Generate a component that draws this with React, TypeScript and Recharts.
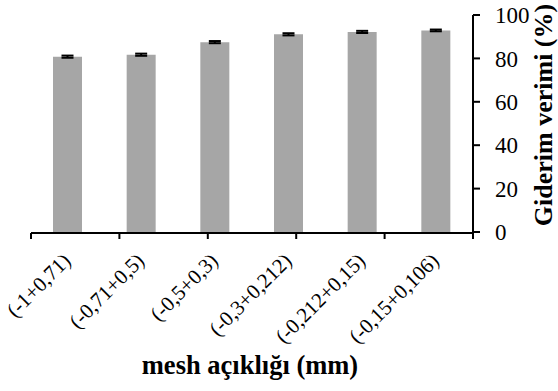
import React from 'react';
import { BarChart, Bar, XAxis, YAxis, ErrorBar, Label } from 'recharts';

const categories = ['(-1+0,71)', '(-0,71+0,5)', '(-0,5+0,3)', '(-0,3+0,212)', '(-0,212+0,15)', '(-0,15+0,106)'];
const removal = [80.8, 81.7, 87.5, 91.1, 92.2, 92.9];
const removalErr = [0.5, 0.5, 0.5, 0.5, 0.5, 0.4];
const yTicks = [0, 20, 40, 60, 80, 100];
const edgeTicks = [0, 1, 2, 3, 4, 5, 6];

const data = categories.map((name, i) => ({ name, value: removal[i], err: removalErr[i] }));

const FONT = 'Liberation Serif';

// rotated category labels, anchored at their end
const CatTick = ({ x, y, payload }: any) => {
  const tx = x + 4;
  const ty = y + 30;
  return (
    <text
      x={tx}
      y={ty}
      transform={`rotate(-45, ${tx}, ${ty})`}
      textAnchor="end"
      fontFamily={FONT}
      fontSize={21}
      fill="#000"
    >
      {payload.value}
    </text>
  );
};

export default function App() {
  return (
    <div style={{ position: 'absolute', left: 0, top: 0, background: '#fff' }}>
      <BarChart width={558} height={391} data={data} margin={{ top: 15, right: 15, left: 31, bottom: 157 }}>
        <XAxis
          xAxisId="edges"
          type="number"
          domain={[0, 6]}
          ticks={edgeTicks}
          allowDataOverflow
          height={1}
          tickSize={6}
          tick={() => <g />}
          axisLine={{ stroke: '#000', strokeWidth: 2 }}
          tickLine={{ stroke: '#000', strokeWidth: 2 }}
        />
        <XAxis
          xAxisId="cat"
          dataKey="name"
          height={1}
          interval={0}
          axisLine={false}
          tickLine={false}
          tickSize={0}
          tickMargin={0}
          tick={<CatTick />}
        >
          <Label
            content={() => (
              <text x={250} y={374} textAnchor="middle" fontFamily={FONT} fontWeight="bold" fontSize={26.5} fill="#000">
                mesh açıklığı (mm)
              </text>
            )}
          />
        </XAxis>
        <YAxis
          orientation="right"
          width={70}
          domain={[0, 100]}
          ticks={yTicks}
          tickSize={7}
          tickMargin={15}
          axisLine={{ stroke: '#000', strokeWidth: 2 }}
          tickLine={{ stroke: '#000', strokeWidth: 2 }}
          tick={{ fill: '#000', fontSize: 23, fontFamily: FONT }}
        >
          <Label
            content={() => (
              <text
                x={552}
                y={115}
                transform="rotate(-90, 552, 115)"
                textAnchor="middle"
                fontFamily={FONT}
                fontWeight="bold"
                fontSize={26}
                fill="#000"
              >
                Giderim verimi (%)
              </text>
            )}
          />
        </YAxis>
        <Bar xAxisId="cat" dataKey="value" fill="#a6a6a6" barSize={29} isAnimationActive={false}>
          <ErrorBar dataKey="err" direction="y" width={6} stroke="#000" strokeWidth={2} isAnimationActive={false} />
        </Bar>
      </BarChart>
    </div>
  );
}
